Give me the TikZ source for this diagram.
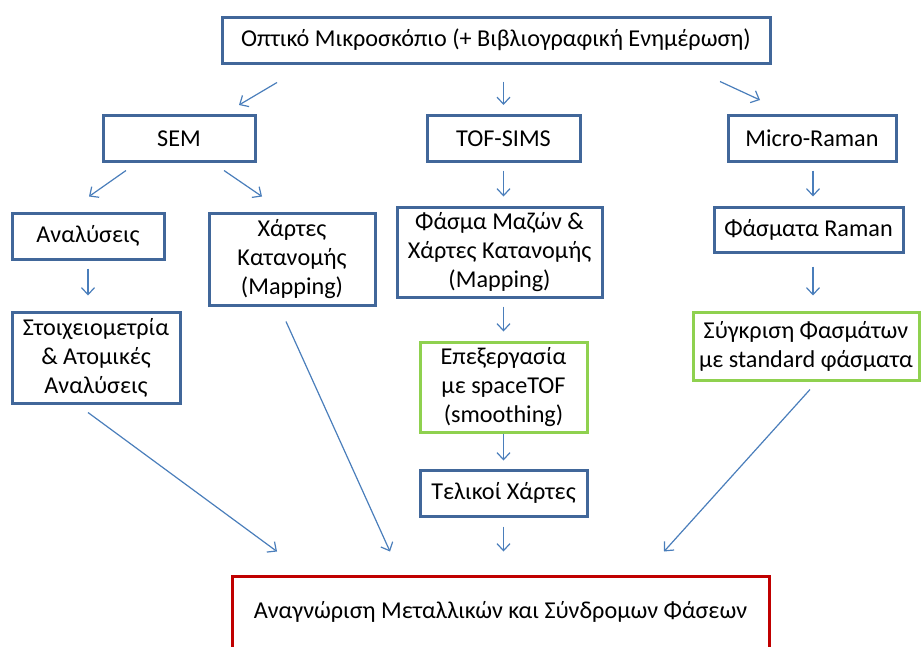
\documentclass[tikz,border=0pt]{standalone}
\usepackage{fontspec}
\setmainfont{Carlito}
\usetikzlibrary{arrows.meta}
\definecolor{boxblue}{HTML}{41679A}
\definecolor{arrblue}{HTML}{4A7EBB}
\definecolor{boxgreen}{HTML}{8FD14F}
\definecolor{boxred}{HTML}{C00000}

\begin{document}
\begin{tikzpicture}[x=1pt,y=-1pt,
    stage/.style={draw=boxblue,line width=3pt,fill=white,align=center,inner sep=0pt,
        font=\fontsize{24.2}{29}\selectfont},
    extra/.style={stage,draw=boxgreen},
    goal/.style={stage,draw=boxred},
    arr/.style={draw=arrblue,line width=1.2pt,-{Straight Barb[length=7pt,width=13pt]}}]
    \clip (0,0) rectangle (922,646);
    % boxes
    \node[stage,minimum width=548,minimum height=46] (top) at (496,40) {Οπτικό Μικροσκόπιο (+ Βιβλιογραφική Ενημέρωση)};
    \node[stage,minimum width=152,minimum height=46] (sem) at (179,138.5) {SEM};
    \node[stage,minimum width=153,minimum height=46] (tof) at (503.5,138.5) {TOF-SIMS};
    \node[stage,minimum width=168,minimum height=46] (raman) at (812,138.5) {Micro-Raman};
    \node[stage,minimum width=152,minimum height=46] (ana) at (88,236) {Αναλύσεις};
    \node[stage,minimum width=166,minimum height=92] (mapsem) at (292,259) {Χάρτες\\Κατανομής\\(Mapping)};
    \node[stage,minimum width=168,minimum height=91] (stoix) at (96,357.5) {Στοιχειομετρία\\\& Ατομικές\\Αναλύσεις};
    \node[stage,minimum width=205,minimum height=90] (mass) at (499.5,252) {Φάσμα Μαζών \&\\Χάρτες Κατανομής\\(Mapping)};
    \node[extra,minimum width=167,minimum height=90] (proc) at (503.5,387) {Επεξεργασία\\με spaceTOF\\(smoothing)};
    \node[stage,minimum width=167,minimum height=46] (final) at (503.5,493) {Τελικοί Χάρτες};
    \node[stage,minimum width=189,minimum height=45] (spectra) at (808.5,229.5) {Φάσματα Raman};
    \node[extra,minimum width=226,minimum height=68] (comp) at (806,346) {Σύγκριση Φασμάτων\\με standard φάσματα};
    \node[goal,minimum width=537,minimum height=72] (ident) at (500.5,612) {Αναγνώριση Μεταλλικών και Σύνδρομων Φάσεων};
    % arrows
    \draw[arr] ([shift={(-219,18)}]top.south) -- ([shift={(60,-9)}]sem.north);
    \draw[arr] ([shift={(7.5,17)}]top.south) -- ([shift={(0,-9)}]tof.north);
    \draw[arr] ([shift={(224,17)}]top.south) -- ([shift={(-52,-14)}]raman.north);
    \draw[arr] ([shift={(-53,7.5)}]sem.south) -- ([shift={(1,-15)}]ana.north);
    \draw[arr] ([shift={(45,7.5)}]sem.south) -- ([shift={(-30,-15)}]mapsem.north);
    \draw[arr] ([shift={(0,7.5)}]tof.south) -- ([shift={(4,-9)}]mass.north);
    \draw[arr] ([shift={(1,7.5)}]raman.south) -- ([shift={(4.5,-9)}]spectra.north);
    \draw[arr] ([shift={(0,8)}]ana.south) -- ([shift={(-8,-15)}]stoix.north);
    \draw[arr] ([shift={(4.5,13)}]spectra.south) -- ([shift={(7,-15)}]comp.north);
    \draw[arr] ([shift={(4,8)}]mass.south) -- ([shift={(0,-9)}]proc.north);
    \draw[arr] (proc.south) -- ([shift={(0,-8)}]final.north);
    \draw[arr] ([shift={(0,9)}]final.south) -- ([shift={(3,-23)}]ident.north);
    \draw[arr] ([shift={(-8,8)}]stoix.south) -- ([shift={(-223.5,-23)}]ident.north);
    \draw[arr] ([shift={(-6,15)}]mapsem.south) -- ([shift={(-110.5,-23)}]ident.north);
    \draw[arr] ([shift={(4,8)}]comp.south) -- ([shift={(163.5,-23)}]ident.north);
\end{tikzpicture}
\end{document}
